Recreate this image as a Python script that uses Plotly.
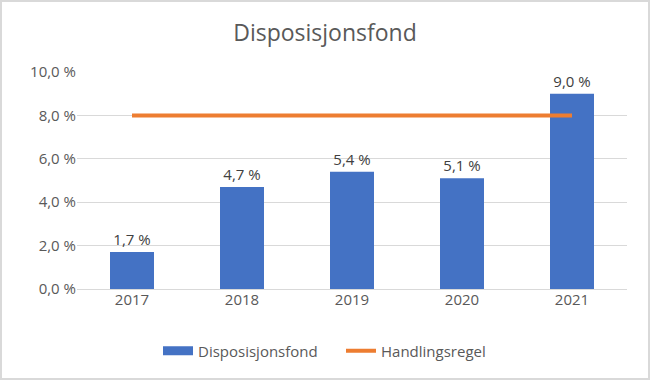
import plotly.graph_objects as go

years = ["2017", "2018", "2019", "2020", "2021"]
disposisjonsfond = [1.7, 4.7, 5.4, 5.1, 9.0]
handlingsregel = [8.0, 8.0, 8.0, 8.0, 8.0]
y_ticks = [0, 2, 4, 6, 8, 10]
y_ticktext = ["0,0 %", "2,0 %", "4,0 %", "6,0 %", "8,0 %", "10,0 %"]

FONT = "Open Sans"
GREY = "#595959"
BLUE = "#4472C4"
ORANGE = "#ED7D31"

fig = go.Figure()
fig.add_trace(go.Bar(
    x=years, y=disposisjonsfond, name="Disposisjonsfond",
    marker=dict(color=BLUE, line=dict(width=0)),
    width=0.4,
    texttemplate="%{y:.1f} %", textposition="outside",
    textfont=dict(family=FONT, size=15, color="#404040"),
    cliponaxis=False, showlegend=False,
))
# legend-only entry to mimic the wide bar swatch
fig.add_trace(go.Scatter(
    x=[None], y=[None], name="Disposisjonsfond", mode="lines",
    line=dict(color=BLUE, width=9), showlegend=True,
))
fig.add_trace(go.Scatter(
    x=years, y=handlingsregel, name="Handlingsregel", mode="lines",
    line=dict(color=ORANGE, width=4),
))

L, R, T, B = 77, 23, 72, 91
W, H = 650, 380
pw, ph = W - L - R, H - T - B

fig.update_layout(
    width=W, height=H,
    margin=dict(l=L, r=R, t=T, b=B, autoexpand=False),
    paper_bgcolor="white", plot_bgcolor="white",
    separators=",.",
    font=dict(family=FONT, size=15, color=GREY),
    title=dict(text="Disposisjonsfond", x=0.5, xanchor="center",
               y=1 - 33 / H, yanchor="middle",
               font=dict(family=FONT, size=23, color=GREY)),
    showlegend=True,
    legend=dict(orientation="h", x=(158 - L) / pw, xanchor="left",
                y=(289 - 351) / ph, yanchor="middle",
                font=dict(family=FONT, size=15, color=GREY),
                entrywidth=138, entrywidthmode="pixels",
                traceorder="normal"),
    xaxis=dict(type="category", showgrid=False, showline=False, ticks="",
               automargin=False,
               tickfont=dict(family=FONT, size=15, color=GREY)),
    yaxis=dict(range=[0, 10], tickvals=y_ticks, ticktext=y_ticktext,
               showgrid=True, gridcolor="#D9D9D9", gridwidth=1,
               zeroline=True, zerolinecolor="#D9D9D9", zerolinewidth=1,
               showline=False, ticks="", automargin=False,
               tickfont=dict(family=FONT, size=15, color=GREY)),
    shapes=[dict(type="rect", xref="paper", yref="paper",
                 x0=(1 - L) / pw, x1=(W - 1 - L) / pw,
                 y0=(289 - (H - 1)) / ph, y1=(289 - 1) / ph,
                 line=dict(color="#D9D9D9", width=2), fillcolor="rgba(0,0,0,0)",
                 layer="below")],
)

fig.write_html("out.html", config={"displayModeBar": False},
               post_script="document.body.style.margin='0';document.body.style.padding='0';document.body.style.overflow='hidden';")
